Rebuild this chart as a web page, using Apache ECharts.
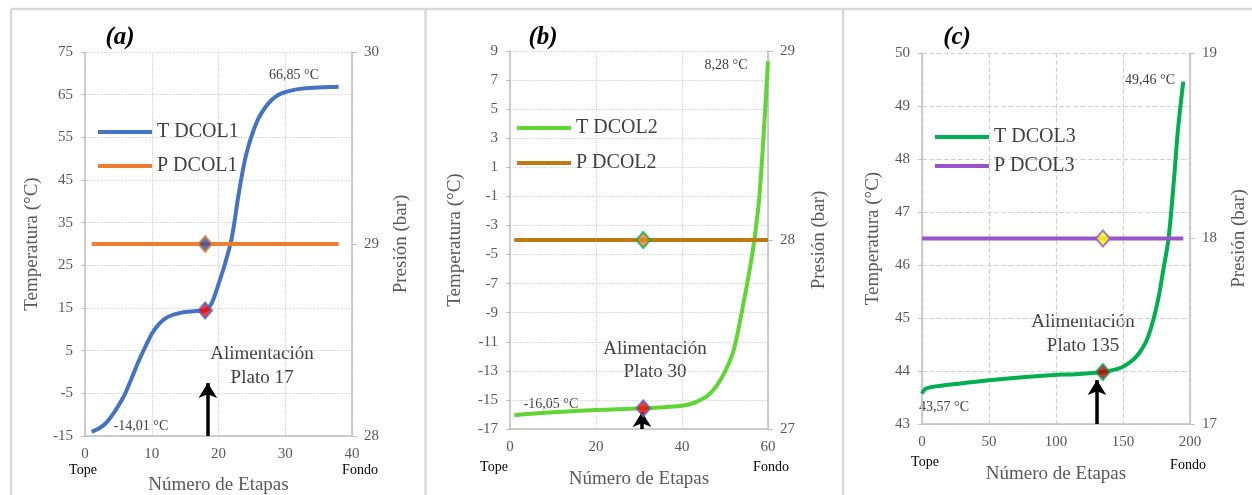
<!DOCTYPE html>
<html>
<head>
<meta charset="utf-8">
<script src="https://cdn.jsdelivr.net/npm/echarts@6/dist/echarts.min.js"></script>
<style>
  html, body { margin: 0; padding: 0; background: #fff; }
  #chart { width: 1252px; height: 495px; }
</style>
</head>
<body>
<div id="chart"></div>
<script>
// (a) DCOL1
const stagesA = [1, 2, 3, 4, 5, 6, 7, 8, 9, 10, 11, 12, 13, 14, 15, 16, 17, 18, 19, 20,
  21, 22, 23, 24, 25, 26, 27, 28, 29, 30, 31, 32, 33, 34, 35, 36, 37, 38];
const tempA = [-14.01, -13.3, -12.2, -10.3, -7.9, -5.1, -1.4, 2.4, 5.8, 8.9, 11.1, 12.5, 13.3, 13.75, 14.05, 14.2, 14.3, 14.4, 16.2, 20.6,
  25.5, 31.5, 41.5, 50, 55.5, 59.5, 62, 63.8, 65, 65.6, 66, 66.3, 66.5, 66.6, 66.7, 66.75, 66.8, 66.85];
const presStagesA = [1, 38];
const presA = [29, 29];
const feedA = 18;
const ticksTA = [-15, -5, 5, 15, 25, 35, 45, 55, 65, 75];

// (b) DCOL2
const stagesB = [1, 5, 10, 15, 20, 25, 31, 35, 40, 42, 44, 46, 48, 50, 52, 54, 56, 57, 58, 59, 60];
const tempB = [-16.05, -15.95, -15.85, -15.77, -15.7, -15.64, -15.57, -15.52, -15.4, -15.28, -15.05, -14.7, -14.05, -13.05, -11.6, -8.8, -5.6, -3.6, -1.0, 3.3, 8.28];
const presStagesB = [1, 60];
const presB = [28, 28];
const feedB = 31;
const ticksTB = [-17, -15, -13, -11, -9, -7, -5, -3, -1, 1, 3, 5, 7, 9];

// (c) DCOL3
const stagesC = [0, 1, 3, 10, 30, 60, 90, 120, 135, 143, 150, 158, 163, 168, 173, 177, 180, 184, 188, 191, 195];
const tempC = [43.57, 43.62, 43.67, 43.71, 43.77, 43.85, 43.91, 43.95, 43.98, 44.02, 44.08, 44.22, 44.37, 44.6, 45.0, 45.45, 45.9, 46.5, 47.6, 48.55, 49.46];
const presStagesC = [0, 195];
const presC = [18, 18];
const feedC = 135;

const zip = (xs, ys) => xs.map((x, i) => [x, ys[i]]);
const tempAt = (xs, ys, s) => ys[xs.indexOf(s)];

const FONT = 'Liberation Serif';
const GRAY = '#595959';
const AXIS = '#bfbfbf';
const GRID = '#d0d0d0';

let myChart = echarts.init(document.getElementById('chart'));

function xAxisOf(idx, max, interval, gridType, gap) {
  return {
    type: 'value', gridIndex: idx, min: 0, max: max, interval: interval,
    name: 'Número de Etapas', nameLocation: 'middle', nameGap: gap,
    nameTextStyle: { fontFamily: FONT, fontSize: 19, color: GRAY },
    axisLine: { onZero: false, lineStyle: { color: AXIS, width: 1.5 } },
    axisTick: { show: false },
    axisLabel: { fontFamily: FONT, fontSize: 15, color: GRAY, margin: 11 },
    splitLine: { show: true, lineStyle: { color: GRID, type: gridType, width: 1.2 } }
  };
}

function leftAxisOf(idx, min, max, interval, ticks, gridType, gap) {
  let ax = {
    type: 'value', gridIndex: idx, position: 'left', min: min, max: max,
    name: 'Temperatura (°C)', nameLocation: 'middle', nameRotate: 90, nameGap: gap,
    nameTextStyle: { fontFamily: FONT, fontSize: 19, color: GRAY },
    axisLine: { show: true, onZero: false, lineStyle: { color: AXIS, width: 1.5 } },
    axisTick: { show: true, length: 4, lineStyle: { color: AXIS } },
    axisLabel: { fontFamily: FONT, fontSize: 15, color: GRAY, margin: 12 },
    splitLine: { show: true, lineStyle: { color: GRID, type: gridType, width: 1.2 } }
  };
  if (ticks) {
    ax.axisTick.customValues = ticks;
    ax.axisLabel.customValues = ticks;
  } else {
    ax.interval = interval;
  }
  return ax;
}

function rightAxisOf(idx, min, max, gap) {
  return {
    type: 'value', gridIndex: idx, position: 'right', min: min, max: max, interval: 1,
    name: 'Presión (bar)', nameLocation: 'middle', nameRotate: 90, nameGap: gap,
    nameTextStyle: { fontFamily: FONT, fontSize: 19, color: GRAY },
    axisLine: { show: true, onZero: false, lineStyle: { color: AXIS, width: 1.5 } },
    axisTick: { show: true, length: 5, lineStyle: { color: AXIS } },
    axisLabel: { fontFamily: FONT, fontSize: 15, color: GRAY, margin: 12 },
    splitLine: { show: false }
  };
}

function arrow(x, y0, y1) {
  return {
    silent: true,
    symbol: ['none', 'arrow'],
    symbolSize: [14, 15],
    lineStyle: { color: '#000', width: 3.5, type: 'solid' },
    label: { show: false },
    emphasis: { disabled: true },
    data: [[{ coord: [x, y0] }, { coord: [x, y1] }]]
  };
}

function marker(xi, yi, point, fill, border) {
  return {
    type: 'scatter', xAxisIndex: xi, yAxisIndex: yi, data: [point],
    symbol: 'diamond', symbolSize: [14, 16], z: 5,
    itemStyle: { color: fill, borderColor: border, borderWidth: 2 }
  };
}

function legendOf(names, left, top, gap) {
  return {
    data: names, left: left, top: top, orient: 'vertical', icon: 'rect', padding: 0,
    itemWidth: 54, itemHeight: 4, itemGap: gap, selectedMode: false,
    textStyle: { fontFamily: FONT, fontSize: 20, color: '#404040', lineHeight: 20 }
  };
}

function txt(text, x, y, size, color, extra) {
  return {
    type: 'text', x: x, y: y, silent: true,
    style: Object.assign({
      text: text, fontFamily: FONT, fontSize: size, fill: color,
      align: 'center', verticalAlign: 'middle'
    }, extra || {})
  };
}

function border(x1, y1, x2, y2) {
  return {
    type: 'line', silent: true,
    shape: { x1: x1, y1: y1, x2: x2, y2: y2 },
    style: { stroke: '#d9d9d9', lineWidth: 2.5 }
  };
}

let option = {
  animation: false,
  backgroundColor: '#fff',
  grid: [
    { left: 85, top: 52, width: 267, height: 384, outerBoundsMode: 'none' },
    { left: 510, top: 51, width: 258, height: 378, outerBoundsMode: 'none' },
    { left: 922, top: 53, width: 268, height: 371, outerBoundsMode: 'none' }
  ],
  xAxis: [
    xAxisOf(0, 40, 10, 'dotted', 40),
    xAxisOf(1, 60, 20, 'dotted', 41),
    xAxisOf(2, 200, 50, 'dashed', 41)
  ],
  yAxis: [
    leftAxisOf(0, -15, 75, 10, ticksTA, 'dotted', 43),
    rightAxisOf(0, 28, 30, 40),
    leftAxisOf(1, -17, 9, 2, ticksTB, 'dotted', 45),
    rightAxisOf(1, 27, 29, 42),
    leftAxisOf(2, 43, 50, 1, null, 'dashed', 39),
    rightAxisOf(2, 17, 19, 40)
  ],
  legend: [
    legendOf(['T DCOL1', 'P DCOL1'], 98, 122, 14),
    legendOf(['T DCOL2', 'P DCOL2'], 517, 118, 15),
    legendOf(['T DCOL3', 'P DCOL3'], 935, 127, 9)
  ],
  series: [
    // (a)
    {
      name: 'T DCOL1', type: 'line', xAxisIndex: 0, yAxisIndex: 0,
      data: zip(stagesA, tempA), smooth: 0.3, showSymbol: false,
      color: '#4472c4', lineStyle: { width: 4, color: '#4472c4' },
      markLine: arrow(18.4, -15, -2.6)
    },
    {
      name: 'P DCOL1', type: 'line', xAxisIndex: 0, yAxisIndex: 1,
      data: zip(presStagesA, presA), showSymbol: false,
      color: '#ed7d31', lineStyle: { width: 4, color: '#ed7d31' }
    },
    marker(0, 1, [feedA, presA[0]], '#2f5597', '#ed7d31'),
    marker(0, 0, [feedA, tempAt(stagesA, tempA, feedA)], '#ff0000', '#4472c4'),
    // (b)
    {
      name: 'T DCOL2', type: 'line', xAxisIndex: 1, yAxisIndex: 2,
      data: zip(stagesB, tempB), smooth: 0.3, showSymbol: false,
      color: '#5fd633', lineStyle: { width: 4, color: '#5fd633' },
      markLine: arrow(30.7, -17, -15.83)
    },
    {
      name: 'P DCOL2', type: 'line', xAxisIndex: 1, yAxisIndex: 3,
      data: zip(presStagesB, presB), showSymbol: false,
      color: '#bf7a12', lineStyle: { width: 4, color: '#bf7a12' }
    },
    marker(1, 3, [feedB, presB[0]], '#ed7d31', '#00b050'),
    marker(1, 2, [feedB, tempAt(stagesB, tempB, feedB)], '#ff0000', '#4472c4'),
    // (c)
    {
      name: 'T DCOL3', type: 'line', xAxisIndex: 2, yAxisIndex: 4,
      data: zip(stagesC, tempC), smooth: 0.3, showSymbol: false,
      color: '#00b050', lineStyle: { width: 4, color: '#00b050' },
      markLine: arrow(130.6, 43, 43.83)
    },
    {
      name: 'P DCOL3', type: 'line', xAxisIndex: 2, yAxisIndex: 5,
      data: zip(presStagesC, presC), showSymbol: false,
      color: '#9954cc', lineStyle: { width: 4, color: '#9954cc' }
    },
    marker(2, 5, [feedC, presC[0]], '#ffff00', '#9954cc'),
    marker(2, 4, [feedC, tempAt(stagesC, tempC, feedC)], '#c00000', '#00b050')
  ],
  graphic: [
    border(11, 9, 1252, 9),
    border(11, 9, 11, 495),
    border(425.5, 9, 425.5, 495),
    border(843, 9, 843, 495),
    // panel titles
    txt('(a)', 120, 38, 25, '#000', { fontWeight: 'bold', fontStyle: 'italic' }),
    txt('(b)', 543, 38, 25, '#000', { fontWeight: 'bold', fontStyle: 'italic' }),
    txt('(c)', 957, 38, 25, '#000', { fontWeight: 'bold', fontStyle: 'italic' }),
    // value labels
    txt('66,85 °C', 294, 75, 14, '#404040'),
    txt('-14,01 °C', 141, 426, 14, '#404040'),
    txt('8,28 °C', 726, 65, 14, '#404040'),
    txt('-16,05 °C', 551, 404, 14, '#404040'),
    txt('49,46 °C', 1150, 80, 14, '#404040'),
    txt('43,57 °C', 944, 407, 14, '#404040'),
    // feed annotations
    txt('Alimentación', 262, 354, 19, '#404040'),
    txt('Plato 17', 262, 378, 19, '#404040'),
    txt('Alimentación', 655, 349, 19, '#404040'),
    txt('Plato 30', 655, 372, 19, '#404040'),
    txt('Alimentación', 1083, 322, 19, '#404040'),
    txt('Plato 135', 1083, 346, 19, '#404040'),
    // ends of the column
    txt('Tope', 83, 470, 14, '#000'),
    txt('Fondo', 360, 470, 14, '#000'),
    txt('Tope', 494, 467, 14, '#000'),
    txt('Fondo', 771, 467, 14, '#000'),
    txt('Tope', 925, 462, 14, '#000'),
    txt('Fondo', 1188, 465, 14, '#000')
  ]
};

myChart.setOption(option);
</script>
</body>
</html>
